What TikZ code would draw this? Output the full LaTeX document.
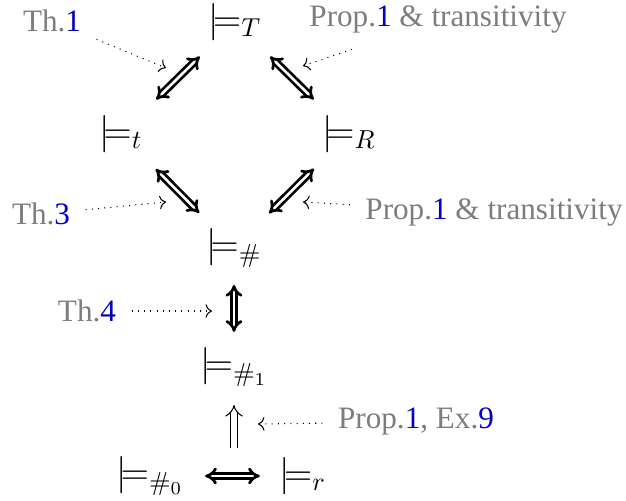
\documentclass[tikz,border=0pt]{standalone}
\usepackage{amsmath, amssymb}
\usepackage[no-math]{fontspec}
\newfontfamily\notefont{Liberation Serif}
\usepackage{tikz}
\usetikzlibrary{arrows, arrows.meta, positioning, quotes}
\definecolor{refblue}{RGB}{0,0,190}
\definecolor{refgray}{RGB}{125,125,125}

\begin{document}
\begin{tikzpicture}[x=0.385pt, y=-0.385pt]
\tikzset{sem/.style = {font=\Large, inner sep=0pt}}
\tikzset{note/.style = {font=\notefont\fontsize{12}{14}\selectfont, text=refgray, inner sep=0pt, outer sep=6pt}}
\tikzset{equiv/.style = {double, double distance=1pt, line width=1.05pt, {Implies}-{Implies}}}
\tikzset{diag/.style = {equiv, shorten <=19pt, shorten >=19pt}}
\tikzset{impl/.style = {double, double distance=2pt, line width=0.4pt, -{Implies}}}
\tikzset{hint/.style = {->, dotted, thin}}
\useasboundingbox (0,0) rectangle (626,501);
% relations
\node[sem] (T) at (235,22) {$\models_T$};
\node[sem] (t) at (121,134) {$\models_t$};
\node[sem] (R) at (349,134) {$\models_R$};
\node[sem] (h) at (234,248) {$\models_\#$};
\node[sem] (h1) at (234,367) {$\models_{\#_1}$};
\node[sem] (h0) at (150,476) {$\models_{\#_0}$};
\node[sem] (r) at (303,476) {$\models_r$};
\coordinate (eq) at (234,476);
% arrows
\path (T.center) edge[diag] (t.center);
\path (T.center) edge[diag] (R.center);
\path (t.center) edge[diag] (h.center);
\path (R.center) edge[diag] (h.center);
\path (h.center) edge[equiv, shorten <=14.2pt, shorten >=13.5pt] (h1.center);
\path (h0.center) edge[equiv, shorten <=21.2pt, shorten >=16.6pt] (r.center);
\path (eq) edge[impl, shorten <=10.8pt, shorten >=14.6pt] (h1.center);
% references
\node[note] (th1) at (52,21) {Th.\textcolor{refblue}{1}};
\node[note] (pr1) at (438,20) {Prop.\textcolor{refblue}{1} \& transitivity};
\node[note] (th3) at (41,214) {Th.\textcolor{refblue}{3}};
\node[note] (pr2) at (494,213) {Prop.\textcolor{refblue}{1} \& transitivity};
\node[note] (th4) at (87,311) {Th.\textcolor{refblue}{4}};
\node[note] (pr3) at (416,422) {Prop.\textcolor{refblue}{1}, Ex.\textcolor{refblue}{9}};
\coordinate (p1) at (166,68);
\coordinate (p2) at (303,66);
\coordinate (p3) at (166,202);
\coordinate (p4) at (303,202);
\coordinate (p5) at (212,311);
\coordinate (p6) at (258,424);
% pointers
\draw[hint] (th1) -- (p1);
\draw[hint] (pr1) -- (p2);
\draw[hint] (th3) -- (p3);
\draw[hint] (pr2) -- (p4);
\draw[hint] (th4) -- (p5);
\draw[hint] (pr3) -- (p6);
\end{tikzpicture}
\end{document}
